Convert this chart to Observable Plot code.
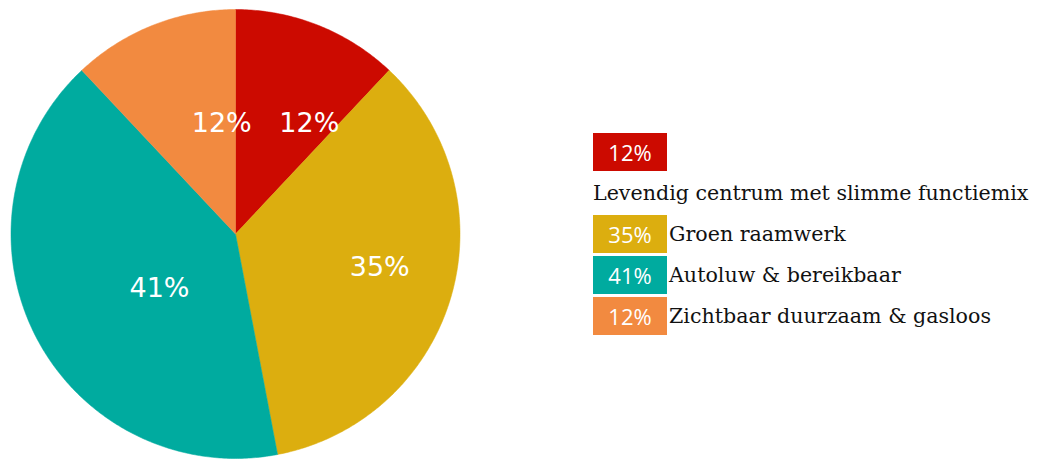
<!DOCTYPE html>
<html>
<head>
<meta charset="utf-8">
<script src="https://cdn.jsdelivr.net/npm/d3@7"></script>
<script src="https://cdn.jsdelivr.net/npm/@observablehq/plot@0.6"></script>
<style>
  html, body { margin: 0; padding: 0; background: #fff; }
  #wrap { position: relative; width: 1038px; height: 460px; overflow: hidden; }
  #chart { position: absolute; left: 0; top: 0; }
  #legend { position: absolute; left: 593px; top: 133px; font-family: "DejaVu Serif", serif; color: #111; }
  .row { display: flex; align-items: center; height: 38px; margin-bottom: 3px; }
  .box { width: 74px; height: 38px; color: #fff; font-family: "Open Sans", sans-serif; font-size: 22px;
         display: flex; align-items: center; justify-content: center; margin-right: 2px; }
  .lab { font-size: 20.6px; white-space: nowrap; }
  .textrow { height: 38px; display: flex; align-items: center; margin-bottom: 3px; font-size: 20.6px; white-space: nowrap; }
</style>
</head>
<body>
<div id="wrap">
  <div id="chart"></div>
  <div id="legend"></div>
</div>
<script>
const categories = ["Levendig centrum met slimme functiemix", "Groen raamwerk", "Autoluw & bereikbaar", "Zichtbaar duurzaam & gasloos"];
const values = [12, 35, 41, 12];
const labels = ["12%", "35%", "41%", "12%"];
const colors = ["#CC0A00", "#DCAE0F", "#00AB9F", "#F28A40"];

const pie = d3.pie().sort(null).value(d => d)(values);
const slicePts = [];
const labelPts = [];
pie.forEach((p, i) => {
  const n = Math.max(8, Math.ceil((p.endAngle - p.startAngle) / 0.01));
  slicePts.push({k: i, x: 0, y: 0, c: colors[i]});
  for (let j = 0; j <= n; j++) {
    const a = p.startAngle + (p.endAngle - p.startAngle) * j / n;
    slicePts.push({k: i, x: Math.sin(a), y: Math.cos(a), c: colors[i]});
  }
  slicePts.push({k: i, x: 0, y: 0, c: colors[i]});
  const m = (p.startAngle + p.endAngle) / 2;
  labelPts.push({x: 0.53 * Math.sin(m), y: 0.53 * Math.cos(m), t: labels[i]});
});

const plot = Plot.plot({
  width: 470,
  height: 460,
  marginLeft: 10.5,
  marginRight: 10.5,
  marginTop: 9,
  marginBottom: 2,
  x: {domain: [-1, 1], axis: null},
  y: {domain: [-1, 1], axis: null},
  color: {type: "identity"},
  marks: [
    Plot.line(slicePts, {x: "x", y: "y", z: "k", fill: "c", stroke: "c", strokeWidth: 0.5, curve: "linear"}),
    Plot.text(labelPts, {x: "x", y: "y", text: "t", fill: "white", fontSize: 27, textAnchor: "start",
      fontFamily: "DejaVu Sans, Verdana, sans-serif"})
  ]
});
document.getElementById("chart").appendChild(plot);

const legend = document.getElementById("legend");
categories.forEach((c, i) => {
  if (i === 0) {
    const r = document.createElement("div"); r.className = "row";
    const b = document.createElement("div"); b.className = "box"; b.style.background = colors[i]; b.textContent = labels[i];
    r.appendChild(b); legend.appendChild(r);
    const t = document.createElement("div"); t.className = "textrow"; t.textContent = c;
    legend.appendChild(t);
  } else {
    const r = document.createElement("div"); r.className = "row";
    const b = document.createElement("div"); b.className = "box"; b.style.background = colors[i]; b.textContent = labels[i];
    const t = document.createElement("div"); t.className = "lab"; t.textContent = c;
    r.appendChild(b); r.appendChild(t); legend.appendChild(r);
  }
});
</script>
</body>
</html>
